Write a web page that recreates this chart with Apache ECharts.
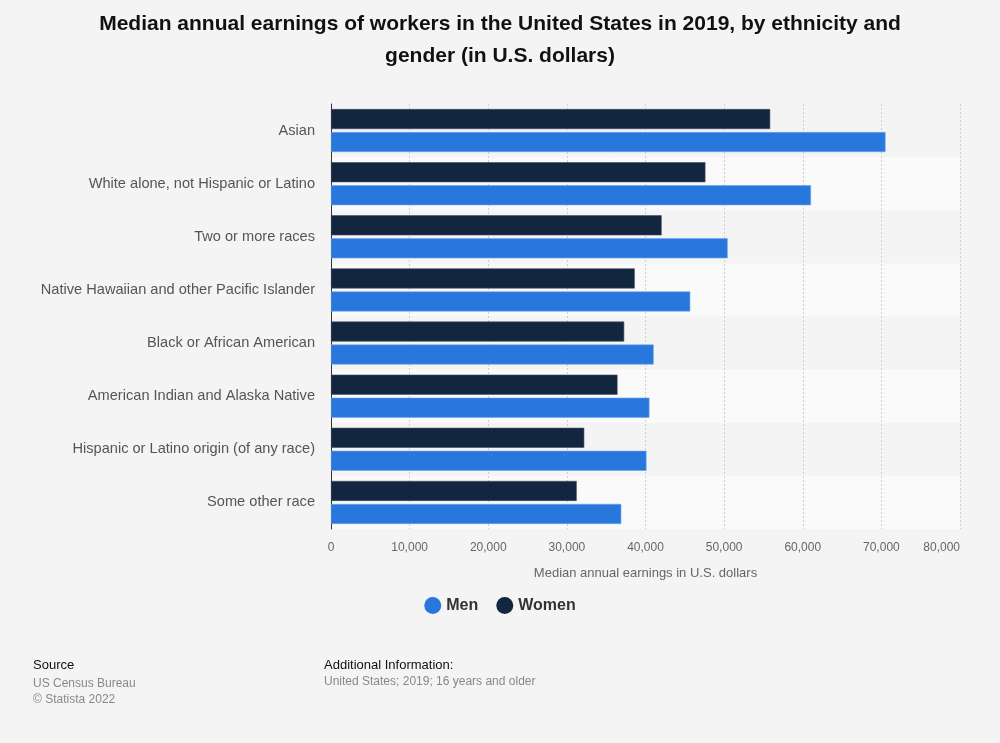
<!DOCTYPE html>
<html><head><meta charset="utf-8">
<script src="https://cdn.jsdelivr.net/npm/echarts@6/dist/echarts.min.js"></script>
<style>html,body{margin:0;padding:0;background:#f4f4f4}#c{width:1000px;height:743px}</style>
</head><body><div id="c"></div>
<script>
const categories = ["Asian","White alone, not Hispanic or Latino","Two or more races","Native Hawaiian and other Pacific Islander","Black or African American","American Indian and Alaska Native","Hispanic or Latino origin (of any race)","Some other race"];
const menValues = [70530, 61050, 50450, 45690, 41040, 40500, 40130, 36920];
const womenValues = [55860, 47620, 42050, 38630, 37290, 36440, 32210, 31250];
const xTicks = [0,10000,20000,30000,40000,50000,60000,70000,80000];

const font = '"Liberation Sans", Arial, sans-serif';
const chart = echarts.init(document.getElementById('c'));
chart.setOption({
  backgroundColor: '#f4f4f4',
  animation: false,
  textStyle: {fontFamily: font},
  title: {
    text: 'Median annual earnings of workers in the United States in 2019, by ethnicity and\ngender (in U.S. dollars)',
    left: 'center', top: 3,
    textStyle: {fontFamily: font, fontSize: 21, fontWeight: 'bold', color: '#111', lineHeight: 32}
  },
  legend: {
    data: ['Men','Women'], bottom: 124, left: 'center',
    icon: 'circle', itemWidth: 17, itemHeight: 17, itemGap: 18,
    itemStyle: {borderWidth: 0},
    textStyle: {fontFamily: font, fontSize: 16, fontWeight: 'bold', color: '#333'}
  },
  grid: {left: 331, right: 40, top: 104, bottom: 214, containLabel: false},
  xAxis: {
    type: 'value', min: 0, max: 80000, interval: 10000,
    name: 'Median annual earnings in U.S. dollars', nameLocation: 'middle', nameGap: 38,
    nameTextStyle: {fontFamily: font, fontSize: 13, color: '#666'},
    axisLine: {show: false}, axisTick: {show: false},
    axisLabel: {color: '#666', fontSize: 12, margin: 13, fontFamily: font, alignMaxLabel: 'right',
      formatter: v => xTicks.includes(v) ? v.toLocaleString('en-US') : ''},
    splitLine: {show: true, lineStyle: {type: [2,2], color: '#cfcfcf', width: 1}}
  },
  yAxis: {
    type: 'category', data: categories, inverse: true,
    axisLine: {show: true, lineStyle: {color: '#333', width: 1}},
    axisTick: {show: false},
    axisLabel: {color: '#555', fontSize: 14.6, margin: 16, fontFamily: font},
    splitArea: {show: true, areaStyle: {color: ['rgba(0,0,0,0)', '#fafafa']}}
  },
  series: [
    {name: 'Women', type: 'bar', data: womenValues, barWidth: 20, barGap: '15%',
     itemStyle: {color: '#12263f', borderColor: '#3c4e63', borderWidth: 0.6}},
    {name: 'Men', type: 'bar', data: menValues, barWidth: 20, barGap: '15%',
     itemStyle: {color: '#2877dd', borderColor: '#6fa3ec', borderWidth: 0.6}}
  ],
  graphic: [
    {type: 'text', left: 33, top: 659, style: {text: 'Source', font: '13px ' + font, fill: '#111'}},
    {type: 'text', left: 33, top: 676, style: {text: 'US Census Bureau\n© Statista 2022', font: '12px ' + font, fill: '#888', lineHeight: 15.5}},
    {type: 'text', left: 324, top: 659, style: {text: 'Additional Information:', font: '13px ' + font, fill: '#111'}},
    {type: 'text', left: 324, top: 676, style: {text: 'United States; 2019; 16 years and older', font: '12px ' + font, fill: '#888'}}
  ]
});
</script></body></html>
